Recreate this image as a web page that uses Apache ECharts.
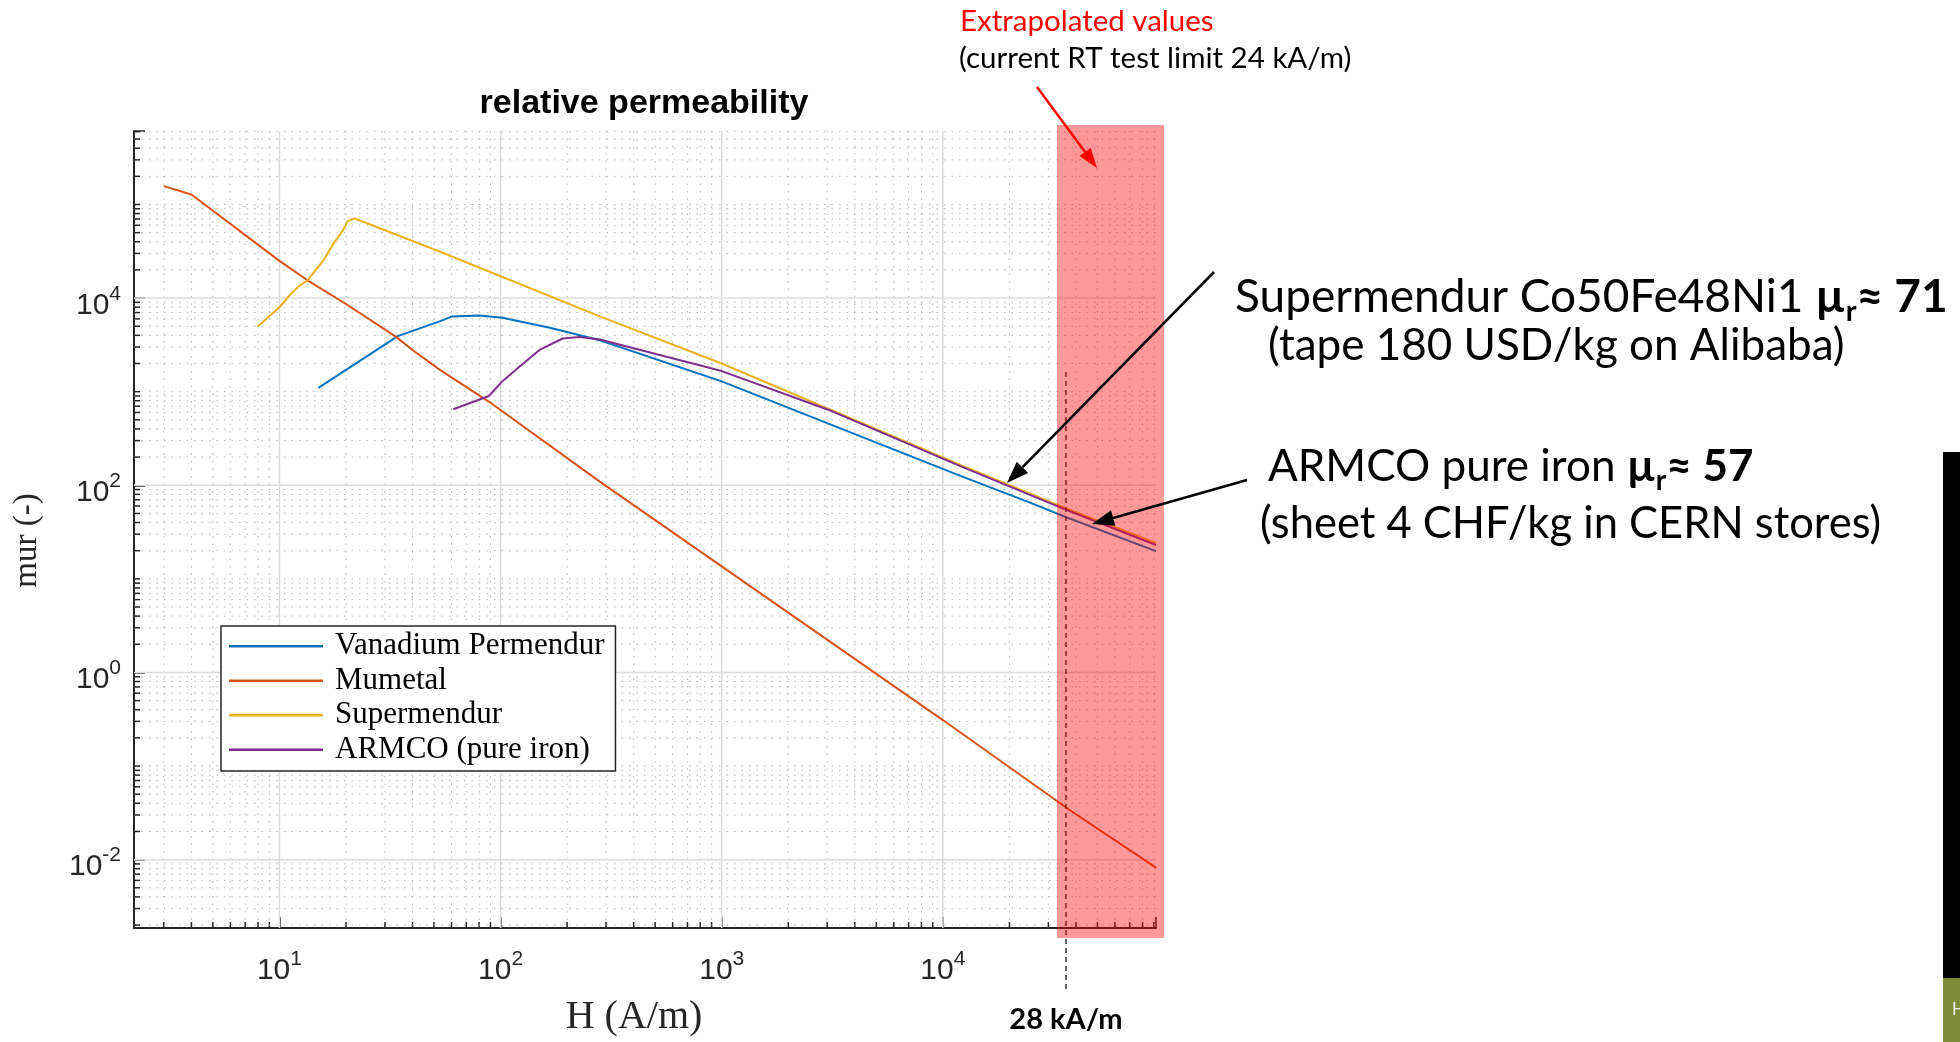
<!DOCTYPE html>
<html>
<head>
<meta charset="utf-8">
<title>relative permeability</title>
<script src="https://cdn.jsdelivr.net/npm/echarts@6/dist/echarts.min.js"></script>
<style>
  html, body { margin: 0; padding: 0; background: #fff; }
  #chart { width: 1960px; height: 1042px; }
</style>
</head>
<body>
<div id="chart"></div>
<script>
/* mur(H) of four soft magnetic materials on log-log axes, with the slide's annotations. */
(function (window, document) {
  "use strict";

  // --- data: H in A/m, relative permeability ---
  const vanadiumH  = [15, 34.3, 53, 60.4, 80.3, 102, 167, 281, 1000, 12000, 24300, 35900, 92000];
  const vanadiumMu = [1100, 3920, 5640, 6370, 6530, 6150, 4830, 3550, 1290, 126, 66.5, 45.8, 19.8];

  const mumetalH  = [3, 4, 10, 13.4, 20, 33.7, 40, 53, 92, 280, 1000, 10000, 37600, 92000];
  const mumetalMu = [157000, 128000, 25000, 15500, 8650, 3850, 2790, 1720, 735, 110, 13.6, 0.31, 0.0337, 0.0082];

  const supermendurH  = [8, 10, 11.3, 12.3, 13.4, 15.9, 17.4, 19.4, 20.4, 21.9, 53, 281, 1000, 12000, 35900, 92000];
  const supermendurMu = [5000, 7980, 11200, 13500, 15500, 25800, 37000, 53300, 66400, 70800, 31500, 6370, 2000, 165, 57, 24.2];

  const armcoH  = [61.2, 88.5, 102, 122, 150, 191, 228, 281, 1000, 3162, 12000, 35900, 92000];
  const armcoMu = [650, 900, 1295, 1860, 2790, 3700, 3830, 3610, 1660, 617, 160, 55, 23];

  const seriesNames  = ["Vanadium Permendur", "Mumetal", "Supermendur", "ARMCO (pure iron)"];
  const seriesColors = ["#0072BD", "#D95319", "#EDB120", "#7E2F8E"];

  // axis limits and tick decades
  const X_MIN = 2.2, X_MAX = 9.2e4;
  const Y_MIN = 1.86e-3, Y_MAX = 6.1e5;
  const xDecades = [0, 1, 2, 3, 4];
  const yDecades = [-3, -2, -1, 0, 1, 2, 3, 4, 5];

  const INK = "#262626";
  const GRID_MAJOR = "#DCDCDC";
  const GRID_MINOR = "#B8B8B8";
  const SANS = "'Liberation Sans', Arial, sans-serif";
  const SERIF = "'Liberation Serif', 'Times New Roman', serif";
  const SLIDE = "Lato, 'Open Sans', sans-serif";

  function pairs(hs, mus) {
    return hs.map(function (h, i) { return [h, mus[i]]; });
  }

  // 10^n labels, blank for anything that is not a power of ten
  function powerLabel(v) {
    const e = Math.log10(v);
    const n = Math.round(e);
    if (Math.abs(e - n) > 1e-6) return "";
    return "{b|10}{e|" + n + "}";
  }
  const powerRich = {
    b: { fontFamily: SANS, fontSize: 30, color: INK, padding: [7, 0, 0, 0] },
    e: { fontFamily: SANS, fontSize: 21, color: INK, verticalAlign: "top" },
  };

  // grid lines: [x, y, 0 = vertical | 1 = horizontal, major flag]
  function gridItems() {
    const items = [];
    xDecades.forEach(function (k) {
      for (let m = 1; m <= 9; m++) {
        const v = m * Math.pow(10, k);
        if (v > X_MIN && v < X_MAX) items.push([v, 1, 0, m === 1 ? 1 : 0]);
      }
    });
    yDecades.forEach(function (k) {
      for (let m = 1; m <= 9; m++) {
        const v = m * Math.pow(10, k);
        if (v > Y_MIN && v < Y_MAX) items.push([10, v, 1, (m === 1 && k % 2 === 0) ? 1 : 0]);
      }
    });
    return items;
  }

  function renderGrid(params, api) {
    const vertical = api.value(2) === 0;
    const major = api.value(3) === 1;
    const a = vertical ? api.coord([api.value(0), Y_MAX]) : api.coord([X_MIN, api.value(1)]);
    const b = vertical ? api.coord([api.value(0), Y_MIN]) : api.coord([X_MAX, api.value(1)]);
    const children = [{
      type: "line",
      shape: { x1: a[0], y1: a[1], x2: b[0], y2: b[1] },
      style: major
        ? { stroke: GRID_MAJOR, lineWidth: 1.5 }
        : { stroke: GRID_MINOR, lineWidth: 1, lineDash: [1.5, 6] },
    }];
    if (!major) {
      children.push({
        type: "line",
        shape: vertical
          ? { x1: b[0], y1: b[1], x2: b[0], y2: b[1] - 6 }
          : { x1: a[0], y1: a[1], x2: a[0] + 6, y2: a[1] },
        style: { stroke: INK, lineWidth: 1.5 },
      });
    }
    return { type: "group", children: children };
  }

  function lineSeries(i, data) {
    return {
      name: seriesNames[i], type: "line", data: data,
      showSymbol: false, symbol: "none", silent: true,
      lineStyle: { color: seriesColors[i], width: 2 },
      itemStyle: { color: seriesColors[i] },
      emphasis: { disabled: true },
      z: 3,
    };
  }

  // slide overlay helpers
  function arrow(x1, y1, x2, y2, color, width, head, half) {
    const ang = Math.atan2(y2 - y1, x2 - x1);
    const bx = x2 - head * Math.cos(ang), by = y2 - head * Math.sin(ang);
    const nx = -Math.sin(ang) * half, ny = Math.cos(ang) * half;
    return [
      { type: "line", z: 20, shape: { x1: x1, y1: y1, x2: bx, y2: by }, style: { stroke: color, lineWidth: width } },
      { type: "polygon", z: 20, shape: { points: [[x2, y2], [bx + nx, by + ny], [bx - nx, by - ny]] }, style: { fill: color } },
    ];
  }
  function label(x, y, text, opts) {
    return {
      type: "text", x: x, y: y, z: 20,
      style: Object.assign({
        text: text, fill: "#000", fontFamily: SLIDE, fontSize: 44,
        align: "left", verticalAlign: "middle", textAlign: "left", textVerticalAlign: "middle",
      }, opts || {}),
    };
  }
  function muRich(size) {
    return {
      n: { fontFamily: SLIDE, fontSize: size, fill: "#000", padding: [0, 0, 6, 0] },
      b: { fontFamily: SLIDE, fontSize: size, fontWeight: "bold", fill: "#000", padding: [0, 0, 6, 0] },
      s: { fontFamily: SLIDE, fontSize: Math.round(size * 0.63), fontWeight: "bold", fill: "#000", verticalAlign: "bottom" },
    };
  }

  const el = document.getElementById("chart");
  const chart = echarts.init(el, null, { renderer: "canvas" });

  const overlay = [
    // 28 kA/m marker, under the red band
    { type: "line", z: 9, shape: { x1: 1066, y1: 372, x2: 1066, y2: 990 },
      style: { stroke: "#333", lineWidth: 1.5, lineDash: [5, 4] } },
    // extrapolated region
    { type: "rect", z: 10, shape: { x: 1057, y: 125, width: 107, height: 813 },
      style: { fill: "rgba(255,0,0,0.4)" } },
    { type: "text", x: 644, y: 104, z: 20,
      style: { text: "relative permeability", fill: "#000", fontFamily: SANS, fontSize: 34, fontWeight: "bold",
               align: "center", verticalAlign: "middle", textAlign: "center", textVerticalAlign: "middle" } },
    label(960, 21, "Extrapolated values", { fill: "#FF0000", fontSize: 29.5 }),
    label(959, 58, "(current RT test limit 24 kA/m)", { fontSize: 29.5 }),
    label(1235, 300, "{n|Supermendur Co50Fe48Ni1 }{b|\u00B5}{s|r}{b|\u2248 71}", { rich: muRich(46) }),
    label(1268, 346, "(tape 180 USD/kg on Alibaba)"),
    label(1268, 470, "{n|ARMCO pure iron }{b|\u00B5}{s|r}{b|\u2248 57}", { rich: muRich(44) }),
    label(1260, 524, "(sheet 4 CHF/kg in CERN stores)", { fontSize: 43.5 }),
    label(1066, 1020, "28 kA/m", { fontSize: 29, fontWeight: "bold", align: "center", textAlign: "center" }),
    // slide edge
    { type: "rect", z: 20, shape: { x: 1943, y: 452, width: 17, height: 526 }, style: { fill: "#000" } },
    { type: "rect", z: 20, shape: { x: 1943, y: 978, width: 17, height: 64 }, style: { fill: "#7C8B34" } },
    label(1952, 1010, "H", { fill: "#eee", fontSize: 18, fontFamily: SANS }),
  ]
    .concat(arrow(1037, 87, 1097, 168, "#FF0000", 2.5, 20, 7))
    .concat(arrow(1214, 272, 1007, 483, "#000", 2.5, 22, 8))
    .concat(arrow(1247, 480, 1092, 524, "#000", 2.5, 22, 8));

  chart.setOption({
    animation: false,
    backgroundColor: "#fff",
    grid: { left: 134, right: 804, top: 131, bottom: 103 },
    legend: {
      data: seriesNames, orient: "vertical", left: 221, top: 626,
      padding: [3, 11, 4, 8], itemGap: 0, itemWidth: 94, itemHeight: 2.5, icon: "rect",
      backgroundColor: "#fff", borderColor: INK, borderWidth: 1.5, borderRadius: 0,
      selectedMode: false, z: 8,
      textStyle: { fontFamily: SERIF, fontSize: 31, color: "#000", lineHeight: 34.5, padding: [0, 0, 0, 7] },
    },
    xAxis: {
      type: "log", logBase: 10, min: X_MIN, max: X_MAX,
      name: "H (A/m)", nameLocation: "middle", nameGap: 69,
      nameTextStyle: { fontFamily: SERIF, fontSize: 40, color: INK, padding: [0, 22, 0, 0] },
      axisLine: { show: true, lineStyle: { color: INK, width: 2 } },
      axisTick: { show: true, inside: true, length: 11, lineStyle: { color: INK, width: 1.5 } },
      splitLine: { show: false },
      axisLabel: { margin: 21, formatter: powerLabel, rich: powerRich },
    },
    yAxis: {
      type: "log", logBase: 100, min: Y_MIN, max: Y_MAX,
      name: "mur (-)", nameLocation: "middle", nameGap: 90,
      nameTextStyle: { fontFamily: SERIF, fontSize: 33, color: INK, padding: [0, 22, 0, 0] },
      axisLine: { show: true, lineStyle: { color: INK, width: 2 } },
      axisTick: { show: true, inside: true, length: 11, lineStyle: { color: INK, width: 1.5 } },
      splitLine: { show: false },
      axisLabel: { margin: 13, padding: [8, 0, 0, 0], formatter: powerLabel, rich: powerRich },
    },
    series: [
      { type: "custom", name: "grid", data: gridItems(), renderItem: renderGrid,
        encode: { x: 0, y: 1 }, silent: true, z: 1 },
      lineSeries(0, pairs(vanadiumH, vanadiumMu)),
      lineSeries(1, pairs(mumetalH, mumetalMu)),
      lineSeries(2, pairs(supermendurH, supermendurMu)),
      lineSeries(3, pairs(armcoH, armcoMu)),
    ],
    graphic: overlay,
  });
})(window, document);
</script>
</body>
</html>
